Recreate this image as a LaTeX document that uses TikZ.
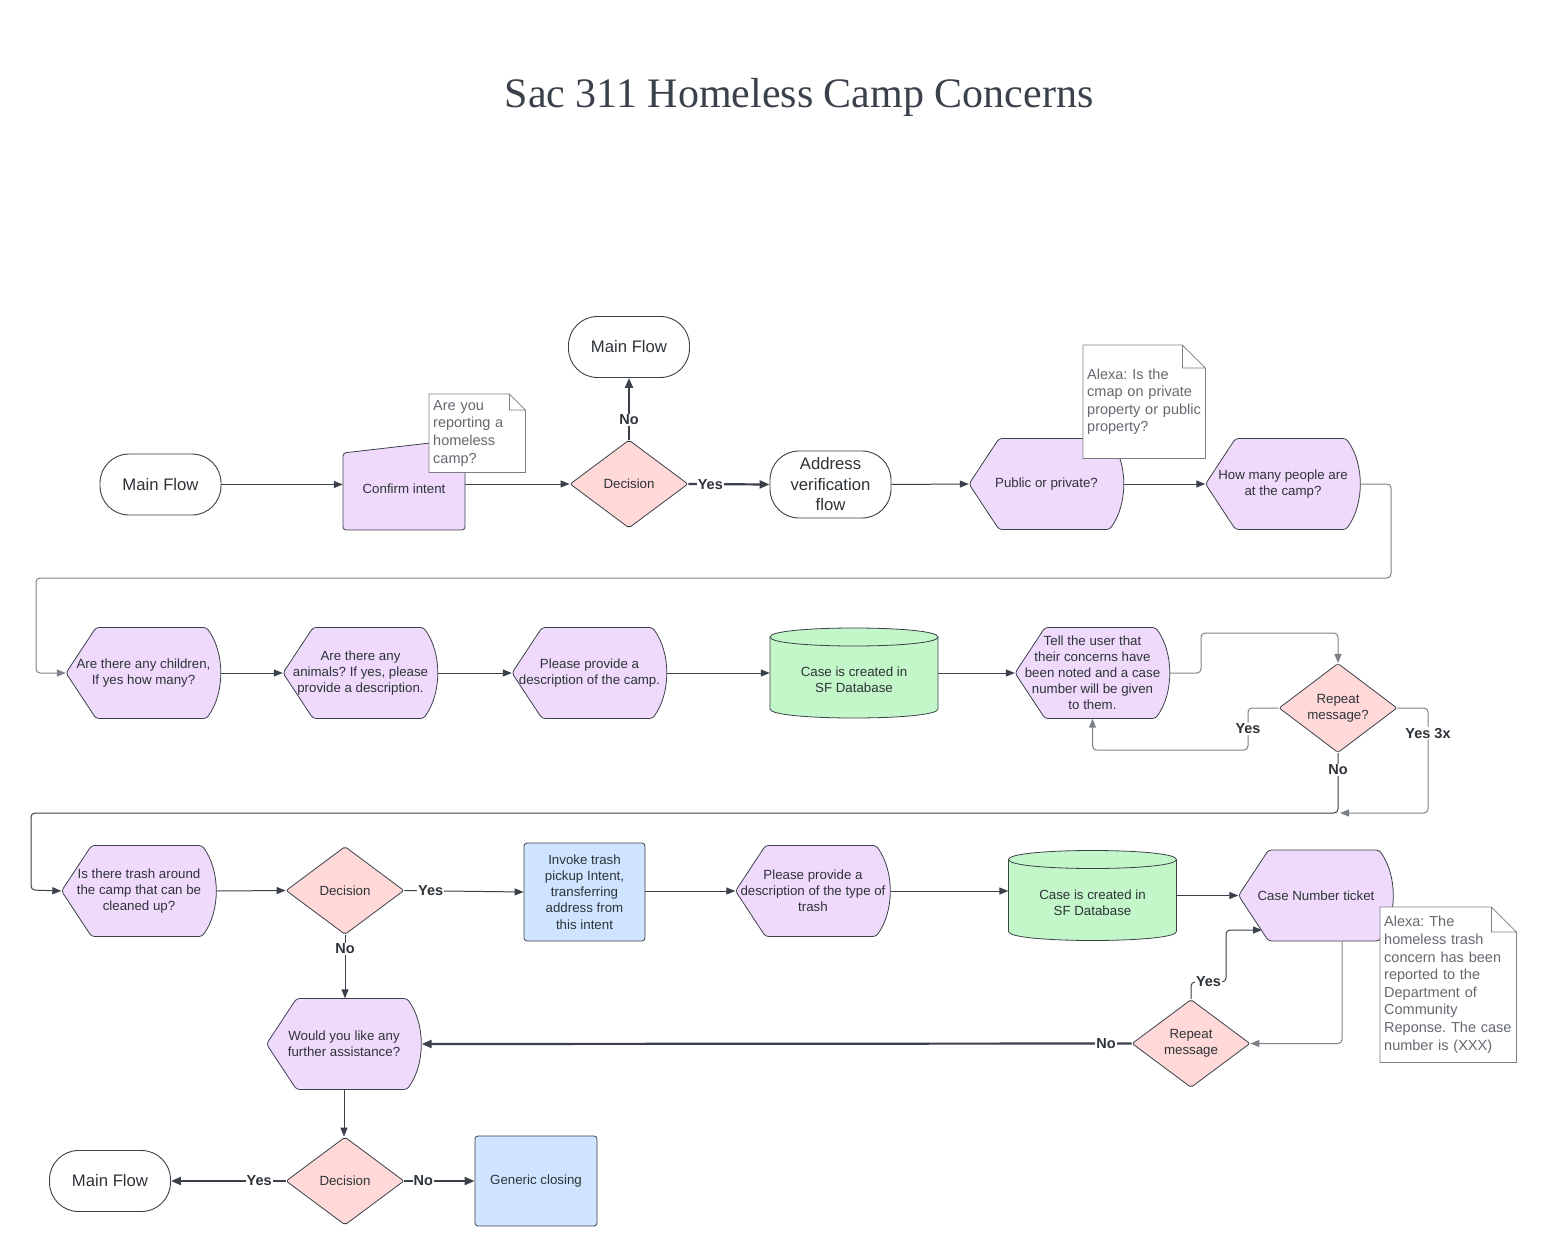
\documentclass[tikz,border=0pt]{standalone}
\usepackage{fontspec}
\setmainfont{Liberation Sans}
\newfontfamily\titlefont{Liberation Serif}
\usetikzlibrary{shapes.geometric,arrows.meta}
\frenchspacing
\definecolor{edge}{HTML}{3A414A}
\definecolor{ink}{HTML}{2E3338}
\definecolor{notetxt}{HTML}{646970}
\definecolor{notegray}{HTML}{7A7F86}
\definecolor{grayline}{HTML}{7C8188}
\definecolor{askfill}{HTML}{F0DAFC}
\definecolor{decfill}{HTML}{FFD8D8}
\definecolor{dbfill}{HTML}{C3F6C8}
\definecolor{actfill}{HTML}{CFE4FF}

\begin{document}
\begin{tikzpicture}[x=1pt,y=-1pt]
            \tikzset{every node/.style={text=ink}}
            \tikzset{flow/.style={draw=edge,fill=white,line width=0.9pt,rounded corners=29pt,minimum width=121pt,minimum height=61pt,align=center,font=\fontsize{16.7}{20.5}\selectfont}}
            \tikzset{ask/.style={minimum width=155pt,minimum height=91pt,inner sep=0pt,align=center,font=\fontsize{13.3}{16}\selectfont}}
            \tikzset{askshape/.style={draw=edge,fill=askfill,line width=0.8pt,rounded corners=3pt}}
            \tikzset{dbshape/.style={draw=edge,fill=dbfill,line width=0.8pt}}
            \tikzset{dec/.style={diamond,draw=edge,fill=decfill,line width=0.8pt,rounded corners=2pt,minimum width=118pt,minimum height=88pt,inner sep=0pt,align=center,font=\fontsize{13.3}{16}\selectfont}}
            \tikzset{act/.style={draw=edge,fill=actfill,line width=0.8pt,rounded corners=3pt,align=center,font=\fontsize{13.3}{16.2}\selectfont}}
            \tikzset{note/.style={fill=white,anchor=north west,inner sep=4pt,align=left,text=notetxt,font=\fontsize{14.5}{17.6}\selectfont}}
            \tikzset{noteline/.style={draw=notegray,line width=0.8pt}}
            \tikzset{arr/.style={draw=edge,line width=1pt,-{Triangle[length=9pt,width=7pt]}}}
            \tikzset{thickarr/.style={arr,line width=2.2pt,-{Triangle[length=10pt,width=8pt]}}}
            \tikzset{grayarr/.style={arr,draw=grayline}}
            \tikzset{lbl/.style={fill=white,inner sep=1pt,font=\bfseries\fontsize{14.5}{16}\selectfont}}
            \useasboundingbox (0,0) rectangle (1548,1257);
            \node[font=\titlefont\fontsize{42}{50}\selectfont,text=edge] (title) at (799,97) {Sac 311 Homeless Camp Concerns};
            % terminals
            \node[flow] (mf1) at (160.5,484.5) {Main Flow};
            \node[flow] (mf2) at (629,347) {Main Flow};
            \node[flow,minimum height=67pt] (av) at (830.5,484.5) {Address\\verification\\flow};
            \node[flow] (mf3) at (110,1181) {Main Flow};
            % confirm intent
            \filldraw[askshape] (343,453) -- (465,439) -- (465,530) -- (343,530) -- cycle;
            \node[ask,minimum width=122pt,minimum height=80pt] (ci) at (404,489) {Confirm intent};
            % questions
            \foreach \nm/\cx/\cy/\txt in {pp/1046.5/484/{Public or private?},
                hm/1283/484/{How many people are\\at the camp?},
                ch/143.5/673/{Are there any children,\\If yes how many?},
                an/360.5/673/{Are there any\\animals? If yes, please\\provide a description.},
                dc/589.5/673/{Please provide a\\description of the camp.},
                tu/1092.5/673/{Tell the user that\\their concerns have\\been noted and a case\\number will be given\\to them.},
                tr/139/891/{Is there trash around\\the camp that can be\\cleaned up?},
                dt/813/891/{Please provide a\\description of the type of\\trash},
                cn/1316/895.5/{Case Number ticket},
                wf/344/1044/{Would you like any\\further assistance?}}{
                \begin{scope}[shift={(\cx,\cy)}]
                    \filldraw[askshape] (-77.5,0) -- (-47.5,-45.5) -- (63,-45.5) .. controls (81.5,-20) and (81.5,20) .. (63,45.5) -- (-47.5,45.5) -- cycle;
                    \node[ask] (\nm) at (0,0) {\txt};
                \end{scope}
            }
            % databases
            \foreach \nm/\cx/\cy in {db1/854/673,db2/1092.5/895.5}{
                \begin{scope}[shift={(\cx,\cy)}]
                    \filldraw[dbshape] (-84,-36) -- (-84,36) .. controls (-84,48) and (84,48) .. (84,36) -- (84,-36) .. controls (84,-48) and (-84,-48) .. (-84,-36) -- cycle;
                    \draw[dbshape,fill=none] (-84,-36) .. controls (-84,-24) and (84,-24) .. (84,-36);
                    \node[ask,minimum width=168pt,minimum height=76pt] (\nm) at (0,7) {Case is created in\\SF Database};
                \end{scope}
            }
            % decisions
            \node[dec] (d1) at (629,484) {Decision};
            \node[dec] (rm) at (1338,708) {Repeat\\message?};
            \node[dec] (d2) at (345,890.5) {Decision};
            \node[dec] (rm2) at (1191,1043.5) {Repeat\\message};
            \node[dec] (d3) at (345,1181) {Decision};
            % actions
            \node[act,minimum width=121pt,minimum height=98pt] (it) at (584.5,892) {Invoke trash\\pickup Intent,\\transferring\\address from\\this intent};
            \node[act,minimum width=122pt,minimum height=90pt] (gc) at (536,1181) {Generic closing};
            % notes
            \node[note,text width=88pt,minimum height=78pt] (n1) at (429,394) {Are you\\reporting a\\homeless\\camp?};
            \node[note,text width=114pt,minimum height=113pt] (n2) at (1083,345) {Alexa: Is the\\cmap on private\\property or public\\property?};
            \node[note,text width=128pt,minimum height=155pt] (n3) at (1380,907) {Alexa: The\\homeless trash\\concern has been\\reported to the\\Department of\\Community\\Reponse. The case\\number is (XXX)};
            \foreach \n/\f in {n1/16,n2/23,n3/25}{
                \draw[noteline] (\n.north west) -- ([xshift=-\f pt]\n.north east) -- ([yshift=-\f pt]\n.north east) -- (\n.south east) -- (\n.south west) -- cycle
                    ([xshift=-\f pt]\n.north east) |- ([yshift=-\f pt]\n.north east);
            }
            % connectors
            \coordinate (j) at (1340,813);
            \coordinate (cnin) at (1262,930);
            \draw[arr] (mf1.east) -- (mf1.east -| ci.west);
            \draw[arr] (ci.east |- d1.west) -- (d1.west);
            \draw[thickarr] (d1.north) -- node[lbl,pos=0.32]{No} (mf2.south);
            \draw[thickarr] (d1.east) -- node[lbl,pos=0.27]{Yes} (av.west);
            \draw[arr] (av.east) -- (pp.west);
            \draw[arr] (pp.east) -- (hm.west);
            \draw[grayarr,rounded corners=4pt] (hm.east) -| (1391,578) -| (36,673) -- (ch.west);
            \draw[arr] (ch.east) -- (an.west);
            \draw[arr] (an.east) -- (dc.west);
            \draw[arr] (dc.east) -- (dc.east -| db1.west);
            \draw[arr] (db1.east |- tu.west) -- (tu.west);
            \draw[grayarr,rounded corners=4pt] (tu.east) -| (1201,633) -| (rm.north);
            \draw[grayarr,rounded corners=4pt] (rm.west) -| node[lbl,pos=0.75]{Yes} (1248,750) -| (tu.south);
            \draw[grayarr,rounded corners=4pt] (rm.east) -| node[lbl,pos=0.62]{Yes 3x} (1428,813) -- (j);
            \draw[arr,rounded corners=4pt] (rm.south) -- node[lbl,pos=0.28]{No} (rm.south |- j) -| (31,890) -- (tr.west);
            \draw[arr] (tr.east) -- (d2.west);
            \draw[arr] (d2.east) -- node[lbl,pos=0.22]{Yes} (it.west);
            \draw[arr] (it.east |- dt.west) -- (dt.west);
            \draw[arr] (dt.east) -- (dt.east -| db2.west);
            \draw[arr] (db2.east |- cn.west) -- (cn.west);
            \draw[grayarr,rounded corners=4pt] ([xshift=26pt]cn.south) |- (rm2.east);
            \draw[arr,rounded corners=4pt] (rm2.north) |- node[lbl,pos=0.75]{Yes} (1226,982) |- (cnin);
            \draw[thickarr] (rm2.west) -- node[lbl,pos=0.036]{No} (wf.east);
            \draw[arr] (d2.south) -- node[lbl,pos=0.22]{No} (d2.south |- wf.north);
            \draw[arr] (wf.south) -- (wf.south |- d3.north);
            \draw[thickarr] (d3.west) -- node[lbl,pos=0.23]{Yes} (mf3.east);
            \draw[thickarr] (d3.east) -- node[lbl,pos=0.27]{No} (gc.west);
\end{tikzpicture}
\end{document}
